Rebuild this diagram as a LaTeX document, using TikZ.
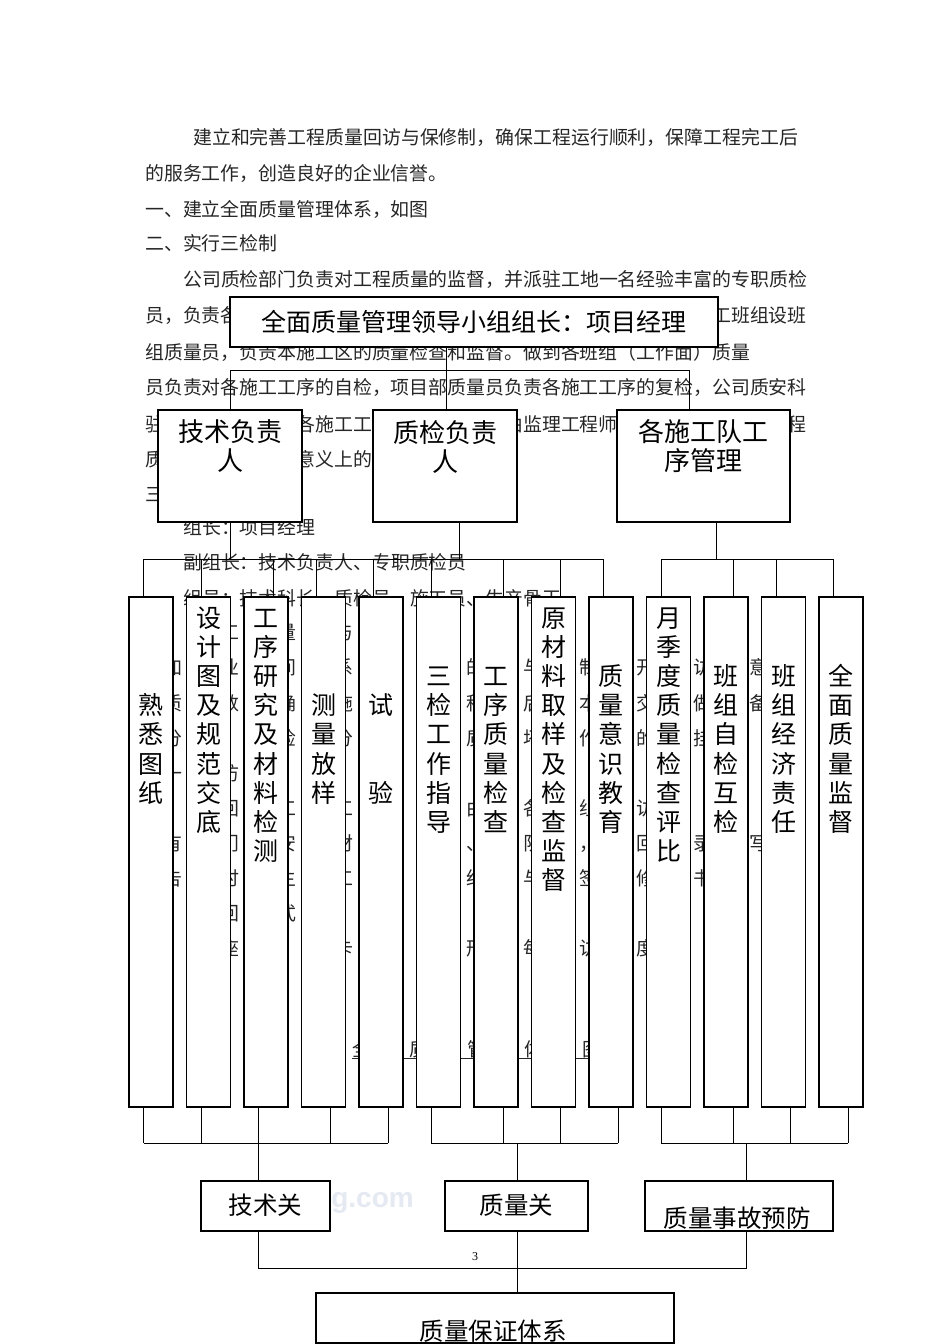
\documentclass[tikz,border=0pt]{standalone}
\usepackage{fontspec}
\newfontfamily\cjk{Noto Sans CJK SC}
\newfontfamily\wmfont{Liberation Sans}
\newfontfamily\numfont{Liberation Serif}
\newcommand\bodyf{\cjk\fontsize{18.9}{18.9}\selectfont}
\newcommand\bigf{\cjk\fontsize{25}{29}\selectfont}
\newcommand\midf{\cjk\fontsize{26}{29}\selectfont}
\newcommand\lowf{\cjk\fontsize{24.5}{29}\selectfont}
\newcommand\tallf{\cjk\fontsize{25}{29}\selectfont}
\definecolor{wmA}{RGB}{228,233,242}
\tikzset{
  body/.style={anchor=west, inner sep=0, font=\bodyf, text height=16.7pt, text depth=2.3pt, text=black!85},
  bchar/.style={anchor=center, inner sep=0, font=\bodyf, text height=16.7pt, text depth=2.3pt, text=black!85},
  box/.style={draw=black, line width=1.1pt, fill=white, inner sep=0},
  conn/.style={line width=1pt, black},
  lbl/.style={align=center, inner sep=0},
  tchar/.style={inner sep=0, font=\tallf, text height=22pt, text depth=3pt},
}
% one line of body text behind the tall boxes: only the characters that show in the gaps
\newcommand\gapline[5]{%
  \foreach \c [count=\k from 0] in {#5} {
    \pgfmathsetmacro\xx{#2+#4*\k}
    \pgfmathsetmacro\ga{173+57.5*floor((\xx-173)/57.5)}
    \pgfmathsetmacro\vis{max(0,min(\xx+18.9,\ga+13.5)-max(\xx,\ga))+max(0,min(\xx+18.9,\ga+71)-max(\xx,\ga+57.5))}
    \pgfmathtruncatemacro\shw{ifthenelse(\vis>=7,1,0)*ifthenelse(\xx+18.9<=808,1,0)}
    \ifnum\shw=1 \node[bchar] (#1-\k) at (\xx+9.45,#3) {\c};\fi
  }}
\begin{document}
\begin{tikzpicture}[x=1pt,y=-1pt]
\useasboundingbox[fill=white] (0,0) rectangle (950,1344);

% ---------- body text behind the chart ----------
\node[body] (l1) at (193,137) {建立和完善工程质量回访与保修制，确保工程运行顺利，保障工程完工后};
\node[body] (l2) at (145,173) {的服务工作，创造良好的企业信誉。};
\node[body] (l3) at (145,209) {一、建立全面质量管理体系，如图};
\node[body] (l4) at (145,243) {二、实行三检制};
\node[body] (l5) at (183,279) {公司质检部门负责对工程质量的监督，并派驻工地一名经验丰富的专职质检};
\node[body] (l6a) at (145,315) {员，负责各};
\node[body] (l6b) at (712,315) {工班组设班};
\node[body] (l7) at (145,352) {组质量员，负责本施工区的质量检查和监督。做到各班组（工作面）质量};
\node[body] (l8) at (145,387) {员负责对各施工工序的自检，项目部质量员负责各施工工序的复检，公司质安科};
\node[body] (l9a) at (145,424) {驻};
\node[body] (l9b) at (296.2,424) {各施工工};
\node[body] (l9c) at (504.1,424) {由监理工程师};
\node[body] (l9d) at (787.6,424) {程};
\node[body] (l10a) at (145,459) {质};
\node[body] (l10b) at (296.2,459) {意义上的};
\node[body] (l11a) at (145,494) {三};
\node[body] (l12) at (183,527) {组长：项目经理};
\node[body] (l13) at (183,562) {副组长：技术负责人、专职质检员};
\node[body] (l14) at (183,598) {组员：技术科长、质检员、施工员、生产骨干};
\gapline{g15}{183}{632}{18.9}{建,立,工,程,质,量,回,访,与,保,修,制,度}
\gapline{g16}{145}{667}{18.9}{为,加,强,与,业,主,之,间,的,联,系,，,建,立,交,工,后,的,回,访,与,保,修,制,度,，,开,展,回,访,，,注,意,提,高}
\gapline{g17}{145}{703}{18.9}{务,质,量,，,数,据,准,确,，,各,施,工,队,并,在,本,工,程,竣,工,后,，,在,本,工,程,交,工,前,做,好,准,备,，}
\gapline{g18}{145}{738}{18.9}{十,分,重,视,，,实,施,检,查,，,分,级,负,责,，,工,程,质,量,好,坏,与,工,作,人,员,的,奖,罚,挂,钩,。}
\gapline{g19}{145}{773}{18.9}{（,一,）,回,访,方,案}
\gapline{g20}{183}{808}{18.9}{1,、,回,访,：,工,程,竣,工,交,付,使,用,后,，,由,公,司,各,部,门,组,织,回,访,，}
\gapline{g21}{145}{843}{18.9}{各,有,关,部,门,由,质,安,科,、,材,料,科,、,工,程,科,、,施,工,队,组,成,，,做,好,回,访,记,录,，,编,写,回,访}
\gapline{g22}{145}{878}{18.9}{报,告,，,及,时,报,业,主,，,对,工,程,中,的,问,题,已,经,预,先,与,业,主,签,订,保,修,协,议,书,。}
\gapline{g23}{183}{913}{18.9}{2,、,回,访,方,式}
\gapline{g24}{183}{948}{18.9}{采,用,座,谈,会,、,意,见,卡,、,电,话,交,谈,等,形,式,，,每,月,回,访,的,制,度,。}
\gapline{g25}{352}{1049}{28.75}{全,面,质,量,管,理,体,系,图}
\draw[line width=1pt, black!85] (352,1058) -- (601,1058);

% small watermark, right of a box
\node[anchor=base east, inner sep=0, text=wmA, font=\wmfont\bfseries\fontsize{28}{28}\selectfont] (wm1) at (414,1207) {g.com};

% ---------- boxes ----------
\node[box, minimum width=488, minimum height=50, font=\bigf] (top) at (474,322) {全面质量管理领导小组组长：项目经理};

\node[box, minimum width=144, minimum height=112] (js) at (230,466) {};
\node[box, minimum width=144, minimum height=112] (qj) at (445,466) {};
\node[box, minimum width=173, minimum height=112] (gs) at (703.5,466) {};
\node[lbl, font=\midf] (jsl) at (230,446.5) {技术负责\\人};
\node[lbl, font=\midf] (qjl) at (445,446.5) {质检负责\\人};
\node[lbl, font=\midf] (gsl) at (703.5,446.5) {各施工队工\\序管理};

\foreach \i in {1,...,13}
  \node[box, minimum width=44, minimum height=510] (t\i) at ({151+57.5*(\i-1)},852) {};

\node[box, minimum width=129, minimum height=50] (jsg) at (265.5,1206) {};
\node[box, minimum width=143, minimum height=50] (zlg) at (516.5,1206) {};
\node[box, minimum width=188, minimum height=50] (sgyf) at (739,1206) {};
\node[box, minimum width=358, minimum height=50] (bz) at (495,1318) {};
\node[lbl, font=\lowf] (jsgl) at (265.5,1205) {技术关};
\node[lbl, font=\lowf] (zlgl) at (516.5,1205) {质量关};
\node[lbl, font=\lowf] (sgyfl) at (737,1218) {质量事故预防};
\node[lbl, font=\lowf] (bzl) at (493,1331) {质量保证体系};

% ---------- tall box texts ----------
\foreach \i/\r/\txt in {1/3/{熟,悉,图,纸},2/0/{设,计,图,及,规,范,交,底},3/0/{工,序,研,究,及,材,料,检,测},4/3/{测,量,放,样},6/2/{三,检,工,作,指,导},7/2/{工,序,质,量,检,查},8/0/{原,材,料,取,样,及,检,查,监,督},9/2/{质,量,意,识,教,育},10/0/{月,季,度,质,量,检,查,评,比},11/2/{班,组,自,检,互,检},12/2/{班,组,经,济,责,任},13/2/{全,面,质,量,监,督}}{
  \foreach \c [count=\k from \r] in \txt {
    \node[tchar] (c\i-\k) at ({151+57.5*(\i-1)},{618+29.1*\k}) {\c};
  }
}
\node[tchar] (c5a) at (381,705.3) {试};
\node[tchar] (c5b) at (381,792.6) {验};

% ---------- connectors ----------
\coordinate (j1) at (446,370);
\coordinate (bl) at (230,370);
\coordinate (br) at (689,370);
\draw[conn] (top.south -| j1) -- (qj.north -| j1);
\draw[conn] (bl) -- (br);
\draw[conn] (bl) -- (js.north -| bl);
\draw[conn] (br) -- (gs.north -| br);

\coordinate (m1) at (230,559);
\coordinate (m2) at (459,559);
\coordinate (m3) at (716,559);
\draw[conn] (js.south -| m1) -- (m1);
\draw[conn] (qj.south -| m2) -- (m2);
\draw[conn] (gs.south -| m3) -- (m3);

\foreach \i/\a/\b in {1/1/1,2/1/1,3/2/1,4/1/2,5/1/2,6/1/1,7/2/2,8/2/2,9/1/2,10/1/1,11/2/2,12/1/2,13/1/2}{
  \coordinate (ta\i) at ({129+57.5*(\i-1)+44*\a/3},559);
  \coordinate (tb\i) at ({129+57.5*(\i-1)+44*\b/3},1143);
  \draw[conn] (ta\i) -- (t\i.north -| ta\i);
  \draw[conn] (t\i.south -| tb\i) -- (tb\i);
}
\draw[conn] (ta1) -- (ta9);
\draw[conn] (ta10) -- (ta13);
\draw[conn] (tb1) -- (tb5);
\draw[conn] (tb6) -- (tb9);
\draw[conn] (tb10) -- (tb13);

\coordinate (d1) at (258.67,1143);
\coordinate (d2) at (517,1143);
\coordinate (d3) at (746,1143);
\draw[conn] (d1) -- (jsg.north -| d1);
\draw[conn] (d2) -- (zlg.north -| d2);
\draw[conn] (d3) -- (sgyf.north -| d3);

\coordinate (e1) at (258.67,1268);
\coordinate (e2) at (517,1268);
\coordinate (e3) at (746,1268);
\draw[conn] (jsg.south -| e1) -- (e1) -- (e3) -- (sgyf.south -| e3);
\draw[conn] (zlg.south -| e2) -- (bz.north -| e2);

% page number
\node[inner sep=0, font=\numfont\fontsize{12}{12}\selectfont] (pn) at (475,1257) {3};
\end{tikzpicture}
\end{document}
